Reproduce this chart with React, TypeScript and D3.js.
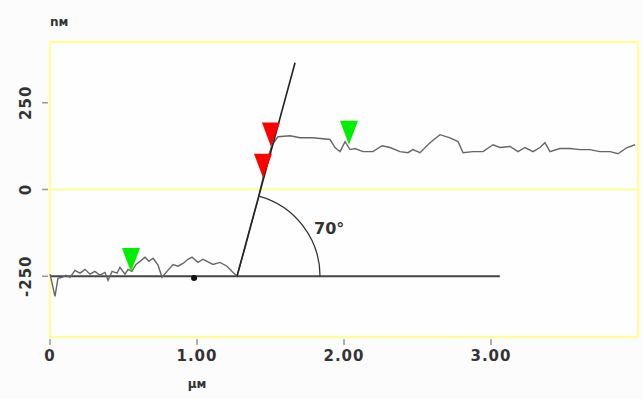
import React from "react";
import * as d3 from "d3";

const profileX = [0.000,0.034,0.054,0.082,0.109,0.136,0.170,0.204,0.238,0.272,0.306,0.340,0.374,0.395,0.422,0.456,0.476,0.510,0.531,0.558,0.585,0.612,0.646,0.673,0.701,0.735,0.762,0.796,0.837,0.871,0.905,0.939,0.966,1.007,1.041,1.068,1.109,1.156,1.204,1.245,1.272,1.327,1.374,1.415,1.449,1.483,1.510,1.551,1.633,1.701,1.789,1.905,1.939,1.973,2.007,2.041,2.075,2.129,2.197,2.259,2.313,2.381,2.435,2.469,2.517,2.585,2.653,2.721,2.776,2.810,2.878,2.946,3.014,3.061,3.129,3.184,3.231,3.286,3.333,3.367,3.401,3.469,3.537,3.605,3.673,3.741,3.810,3.864,3.925,3.980];
const profileY = [-244,-308,-256,-253,-247,-253,-233,-241,-230,-244,-236,-247,-239,-262,-236,-241,-224,-244,-230,-236,-216,-207,-195,-207,-198,-218,-253,-236,-216,-221,-213,-201,-195,-210,-201,-207,-216,-210,-221,-239,-250,-167,-92,-29,34,92,129,152,155,149,149,144,121,109,138,115,118,109,109,126,121,109,106,115,106,135,158,149,138,106,109,109,129,121,124,109,121,109,121,135,109,118,118,115,115,109,109,103,121,129];

const xTicks = [0, 1, 2, 3];
const xTickLabels = ["0", "1.00", "2.00", "3.00"];
const yTicks = [250, 0, -250];
const yTickLabels = ["250", "0", "-250"];

const markerX = [0.551, 1.503, 1.449, 2.034];
const markerY = [-238, 124, 34, 129];
const markerColor = ["#00ee00", "#ff0000", "#ff0000", "#00ee00"];

const tangentX = [1.272, 1.667];
const tangentY = [-250, 365];
const baseX = [0, 3.06];
const baseY = [-250, -250];
const dotX = 0.98;
const dotY = -255;
const angleLabel = "70°";
const arcEndX = 1.837;

export default function App() {
  const W = 643, H = 399;
  const xs = d3.scaleLinear().domain([0, 4.0]).range([50, 638]);
  const ys = d3.scaleLinear().domain([-425, 425]).range([337, 42]);
  const line = d3.line<number>().x((_, i) => xs(profileX[i])).y((d) => ys(d));
  const font = "'DejaVu Sans', Verdana, sans-serif";

  const cx = xs(tangentX[0]), cy = ys(tangentY[0]);
  const tx = xs(tangentX[1]) - cx, ty = ys(tangentY[1]) - cy;
  const tl = Math.hypot(tx, ty);
  const r = xs(arcEndX) - cx;
  const sx = cx + (r * tx) / tl, sy = cy + (r * ty) / tl;
  const arcPath = `M${sx},${sy} A${r},${r} 0 0 1 ${cx + r},${cy}`;

  const tri = (x: number, y: number) => {
    const px = xs(x), py = ys(y);
    return `M${px},${py} L${px - 9},${py - 24} L${px + 9},${py - 24} Z`;
  };

  return (
    <svg width={W} height={H} style={{ position: "absolute", left: 0, top: 0, background: "#fcfcfc" }}>
      <rect x={0} y={0} width={W} height={H} fill="#fcfcfc" />
      <rect x={xs(0)} y={ys(425)} width={xs(4) - xs(0)} height={ys(-425) - ys(425)} fill="#fefefe" stroke="#ffff99" strokeWidth={2.2} />
      <line x1={xs(0)} x2={xs(4)} y1={ys(0)} y2={ys(0)} stroke="#ffff99" strokeWidth={2.2} />
      {yTicks.map((t, i) => (
        <g key={"y" + i}>
          <line x1={42} x2={48} y1={ys(t)} y2={ys(t)} stroke="#999" strokeWidth={1.5} />
          <text transform={`translate(31,${ys(t)}) rotate(-90)`} textAnchor="middle" fontFamily={font} fontWeight="bold" fontSize={15} fill="#333" letterSpacing={1}>
            {yTickLabels[i]}
          </text>
        </g>
      ))}
      {xTicks.map((t, i) => (
        <g key={"x" + i}>
          <line x1={xs(t)} x2={xs(t)} y1={339} y2={345} stroke="#999" strokeWidth={1.5} />
          <text x={xs(t)} y={361} textAnchor="middle" fontFamily={font} fontWeight="bold" fontSize={15} fill="#333" letterSpacing={1}>
            {xTickLabels[i]}
          </text>
        </g>
      ))}
      <text x={xs(1)} y={388} textAnchor="middle" fontFamily={font} fontWeight="bold" fontSize={12} fill="#333">μм</text>
      <text x={50} y={26} fontFamily={font} fontWeight="bold" fontSize={12} fill="#333">nм</text>
      <line x1={xs(baseX[0])} x2={xs(baseX[1])} y1={ys(baseY[0])} y2={ys(baseY[1])} stroke="#444" strokeWidth={2} />
      <path d={line(profileY) || ""} fill="none" stroke="#666" strokeWidth={1.4} />
      <line x1={xs(tangentX[0])} x2={xs(tangentX[1])} y1={ys(tangentY[0])} y2={ys(tangentY[1])} stroke="#222" strokeWidth={1.6} />
      <path d={arcPath} fill="none" stroke="#333" strokeWidth={1.3} />
      <circle cx={xs(dotX)} cy={ys(dotY)} r={3} fill="#111" />
      {markerX.map((x, i) => (
        <path key={"m" + i} d={tri(x, markerY[i])} fill={markerColor[i]} />
      ))}
      <text x={314} y={234} fontFamily={font} fontWeight="bold" fontSize={16} fill="#333">{angleLabel}</text>
    </svg>
  );
}
